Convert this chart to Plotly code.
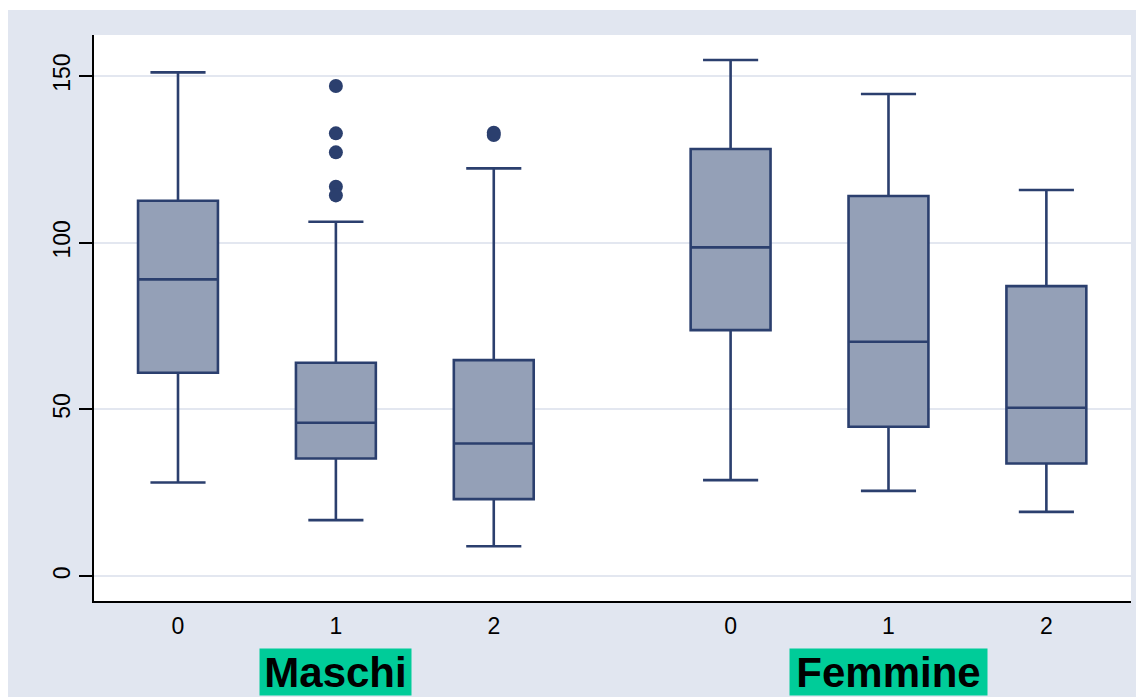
import plotly.graph_objects as go

# ---- data ----
groups = ["Maschi", "Femmine"]
levels = ["0", "1", "2"]
q1 = [61.0, 35.3, 23.1, 73.8, 44.8, 33.8]
median = [89.0, 46.0, 39.8, 98.6, 70.3, 50.5]
q3 = [112.6, 64.0, 64.8, 128.1, 114.0, 87.0]
lower_whisker = [28.1, 16.8, 9.0, 28.8, 25.6, 19.3]
upper_whisker = [151.1, 106.3, 122.3, 154.8, 144.6, 115.8]
outliers = [[], [147.0, 132.8, 127.1, 116.8, 114.2], [133.0, 132.3], [], [], []]
y_ticks = [0, 50, 100, 150]

# ---- styling ----
LINE = "#2b3f6e"
FILL = "#94a0b7"
BG = "#e1e6f0"
GREEN = "#00cc99"
FONT = "Arial, Liberation Sans, sans-serif"
GROUP_GAP = 3.5
LABEL_BOX_W = {"Maschi": 151, "Femmine": 197}

positions = []
ticktext = []
for gi, g in enumerate(groups):
    for li, lv in enumerate(levels):
        positions.append(gi * GROUP_GAP + li)
        ticktext.append(lv)

fig = go.Figure()
for i, p in enumerate(positions):
    fig.add_trace(go.Box(
        x=[p], q1=[q1[i]], median=[median[i]], q3=[q3[i]],
        lowerfence=[lower_whisker[i]], upperfence=[upper_whisker[i]],
        width=0.506, whiskerwidth=0.69,
        fillcolor=FILL, line=dict(color=LINE, width=2.6),
        boxpoints=False, showlegend=False, hoverinfo="skip",
    ))
    if outliers[i]:
        fig.add_trace(go.Scatter(
            x=[p] * len(outliers[i]), y=outliers[i], mode="markers",
            marker=dict(color=LINE, size=14, symbol="circle"),
            showlegend=False, hoverinfo="skip",
        ))

for gi, g in enumerate(groups):
    fig.add_annotation(
        x=gi * GROUP_GAP + 1, xref="x", y=-0.126, yref="paper",
        text="<b>%s</b>" % g, showarrow=False,
        font=dict(family=FONT, size=42, color="black"),
        bgcolor=GREEN, width=LABEL_BOX_W[g], height=46, borderpad=0,
        xanchor="center", yanchor="middle",
    )

# thin white strip at the very top
fig.add_shape(type="rect", xref="paper", yref="paper", x0=-0.2, x1=1.2,
              y0=1.0442, y1=1.2, fillcolor="white", line=dict(width=0), layer="below")

fig.update_layout(
    width=1144, height=697,
    margin=dict(l=86, r=21, t=27, b=104),
    paper_bgcolor=BG, plot_bgcolor="white",
    font=dict(family=FONT, size=22, color="black"),
    xaxis=dict(
        range=[-0.532, 6.036], tickmode="array", tickvals=positions, ticktext=ticktext,
        showgrid=False, zeroline=False, showline=True, linecolor="black", linewidth=2,
        ticks="", ticklabelstandoff=3, tickfont=dict(size=23),
    ),
    yaxis=dict(
        range=[-7.44, 162.3], tickmode="array", tickvals=y_ticks,
        showgrid=True, gridcolor="#e3e7f0", gridwidth=2, zeroline=False,
        showline=True, linecolor="black", linewidth=2,
        ticks="outside", ticklen=13, tickwidth=2, tickcolor="black",
        tickangle=-90, tickfont=dict(size=23),
    ),
)

fig.write_html("out.html")
